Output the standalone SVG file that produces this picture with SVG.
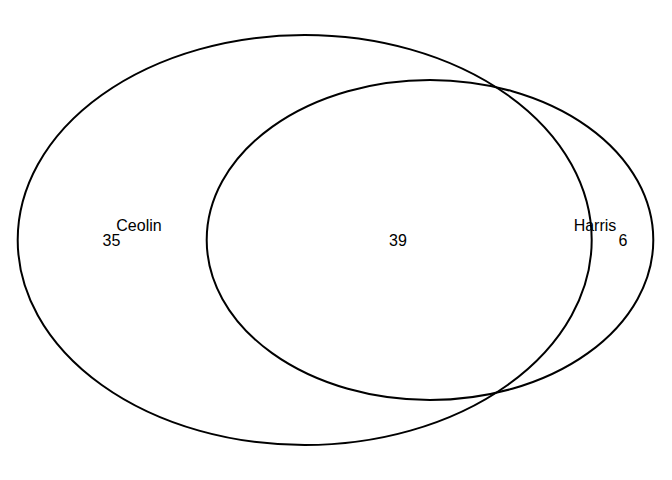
<svg xmlns="http://www.w3.org/2000/svg" width="672" height="480" viewBox="0 0 672 480">
<style>
.set{fill:none;stroke:#000;stroke-width:2}
text{font-family:"Liberation Sans",Arial,sans-serif;font-size:16px;fill:#000;text-anchor:middle}
</style>
<rect width="672" height="480" fill="#fff"/>
<g id="Ceolin">
<ellipse class="set" cx="304.7" cy="240" rx="287" ry="205"/>
<text x="139" y="231">Ceolin</text>
<text x="111.5" y="246">35</text>
</g>
<g id="Harris">
<ellipse class="set" cx="430" cy="240" rx="223.3" ry="160"/>
<text x="595" y="231">Harris</text>
<text x="623" y="246">6</text>
</g>
<g id="intersection">
<text x="398" y="246">39</text>
</g>
<g id="connectors"/>
</svg>
